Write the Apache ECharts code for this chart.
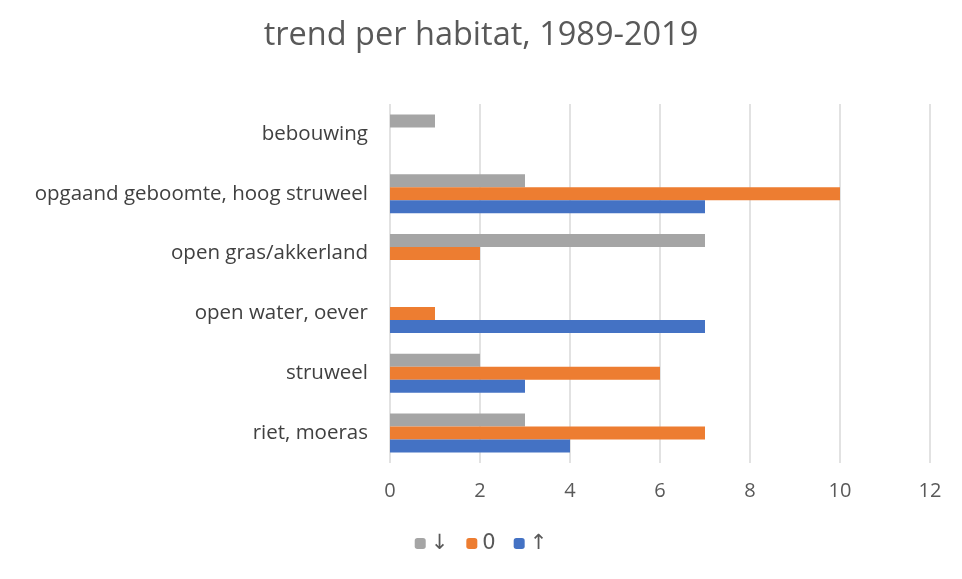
<!DOCTYPE html>
<html><head><meta charset="utf-8">
<script src="https://cdn.jsdelivr.net/npm/echarts@6/dist/echarts.min.js"></script>
<style>html,body{margin:0;padding:0;background:#fff}#c{width:962px;height:579px}</style>
</head><body><div id="c"></div>
<script>
const categories = ['riet, moeras','struweel','open water, oever','open gras/akkerland','opgaand geboomte, hoog struweel','bebouwing'];
const seriesNames = ['↓','0','↑'];
const downValues = [3,2,0,7,3,1];
const zeroValues = [7,6,1,2,10,0];
const upValues = [4,3,7,0,7,0];
const xTicks = {min:0, max:12, interval:2};

const font = '"Open Sans", "Noto Sans", sans-serif';
const chart = echarts.init(document.getElementById('c'));
chart.setOption({
  animation:false,
  backgroundColor:'#fff',
  title:{text:'trend per habitat, 1989-2019', left:'center', top:14,
    textStyle:{fontFamily:font, fontSize:32.5, fontWeight:'normal', color:'#595959'}},
  legend:{data:seriesNames, bottom:20, left:'center', itemWidth:11, itemHeight:11, itemGap:18,
    textStyle:{fontFamily:'"DejaVu Sans", sans-serif', fontSize:21, color:'#595959'}},
  grid:{left:390, right:32, top:104, bottom:116},
  xAxis:{type:'value', min:xTicks.min, max:xTicks.max, interval:xTicks.interval,
    axisLine:{show:false}, axisTick:{show:false},
    axisLabel:{fontFamily:font, fontSize:20, color:'#595959', margin:18},
    splitLine:{lineStyle:{color:'#d9d9d9', width:1.5}}},
  yAxis:{type:'category', data:categories,
    axisLine:{show:false}, axisTick:{show:false},
    axisLabel:{fontFamily:font, fontSize:20.5, color:'#404040', margin:22}},
  series:[
    {name:'↓', type:'bar', data:downValues, barWidth:13, barGap:'0%', itemStyle:{color:'#a5a5a5'}},
    {name:'0', type:'bar', data:zeroValues, barWidth:13, barGap:'0%', itemStyle:{color:'#ed7d31'}},
    {name:'↑', type:'bar', data:upValues, barWidth:13, barGap:'0%', itemStyle:{color:'#4472c4'}}
  ]
});
</script></body></html>
